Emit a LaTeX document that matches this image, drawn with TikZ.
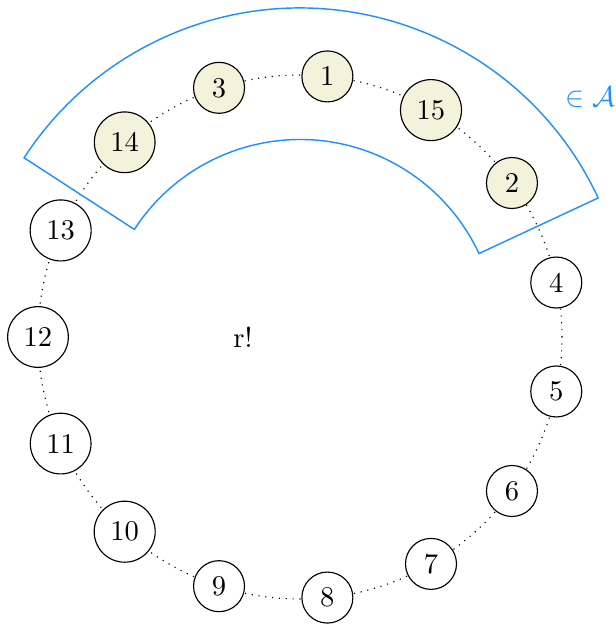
\documentclass[tikz,border=0pt]{standalone}
\usepackage{amsmath}
\usepackage{amssymb}
\usepackage[dvipsnames]{xcolor}
\usepackage{tikz}

\definecolor{setblue}{RGB}{30,144,255}
\definecolor{setfill}{RGB}{243,243,220}

\begin{document}
\begin{tikzpicture}[x=0.35pt,y=0.35pt,
    elem/.style={draw,circle,thin,fill=white,minimum size=17.85pt,inner sep=3.3pt},
    inA/.style={elem,fill=setfill}]
    \useasboundingbox (-300,-287) rectangle (316,337);

    % the ring
    \draw[dotted] (0,0) circle (262);

    % the sector of elements in A
    \draw[setblue,line width=0.5pt]
        (25:197.5) -- (25:329) arc (25:147:329)
        -- (147:197.5) arc (147:25:197.5) -- cycle;
    \node[setblue] (lblA) at (290,240) {$\in\mathcal{A}$};

    \node[inA] (n1)  at (84:262)   {1};
    \node[inA] (n15) at (60:262)   {15};
    \node[inA] (n2)  at (36:262)   {2};
    \node[elem] (n4)  at (12:262)  {4};
    \node[elem] (n5)  at (-12:262) {5};
    \node[elem] (n6)  at (-36:262) {6};
    \node[elem] (n7)  at (-60:262) {7};
    \node[elem] (n8)  at (-84:262) {8};
    \node[elem] (n9)  at (-108:262) {9};
    \node[elem] (n10) at (-132:262) {10};
    \node[elem] (n11) at (-156:262) {11};
    \node[elem] (n12) at (180:262) {12};
    \node[elem] (n13) at (156:262) {13};
    \node[inA] (n14) at (132:262)  {14};
    \node[inA] (n3)  at (108:262)  {3};

    \node (rfac) at (-57,0) {r!};
\end{tikzpicture}
\end{document}
